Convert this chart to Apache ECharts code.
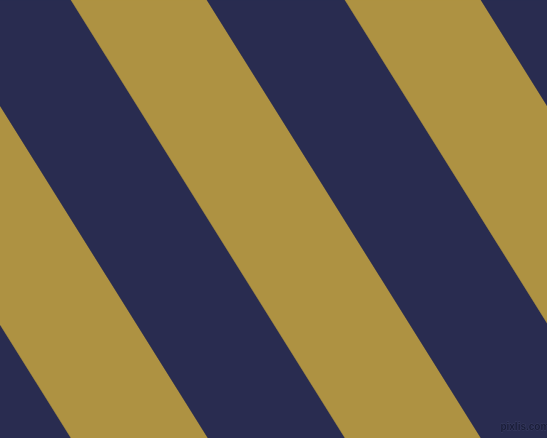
<!DOCTYPE html>
<html>
<head>
<meta charset="utf-8">
<script src="https://cdn.jsdelivr.net/npm/echarts@6/dist/echarts.min.js"></script>
<style>
  html, body { margin: 0; padding: 0; background: #292c50; }
  #chart { width: 547px; height: 438px; }
</style>
</head>
<body>
<div id="chart"></div>
<script>
// stripe edges along the top row (x in px units of the axis); each edge drifts right by bottomShift at the bottom row
const stripeLeft  = [-340, -203, -66, 71, 207, 345, 481]
const stripeRight = [-203, -66, 71, 207, 345, 481, 618]
const stripeKind  = ['navy', 'gold', 'navy', 'gold', 'navy', 'gold', 'navy']
const bottomShift = 274   // horizontal drift of every edge from y=0 to y=438

const palette = { navy: '#292c50', gold: '#ae9242' }
const width = 547
const height = 438

const chart = echarts.init(document.getElementById('chart'))

const data = stripeLeft.map((l, i) => [l, stripeRight[i], i])

chart.setOption({
    animation: false,
    backgroundColor: palette.navy,
    grid: { left: 0, right: 0, top: 0, bottom: 0 },
    xAxis: { type: 'value', min: 0, max: width, show: false },
    yAxis: { type: 'value', min: 0, max: height, inverse: true, show: false },
    series: [{
        type: 'custom',
        clip: true,
        data: data,
        renderItem: function (params, api) {
            const l = api.value(0)
            const r = api.value(1)
            const k = stripeKind[api.value(2)]
            const pts = [
                api.coord([l, 0]),
                api.coord([r, 0]),
                api.coord([r + bottomShift, height]),
                api.coord([l + bottomShift, height])
            ]
            return {
                type: 'polygon',
                shape: { points: pts },
                style: { fill: palette[k], stroke: palette[k], lineWidth: 0.5 }
            }
        }
    }],
    graphic: [{
        type: 'text',
        z: 100,
        left: 500,
        top: 422,
        style: {
            text: 'pixlis.com',
            font: 'bold 10px "Liberation Sans"',
            fill: '#1a1d38',
            stroke: '#3a3e63',
            lineWidth: 0.8
        }
    }]
})
</script>
</body>
</html>
